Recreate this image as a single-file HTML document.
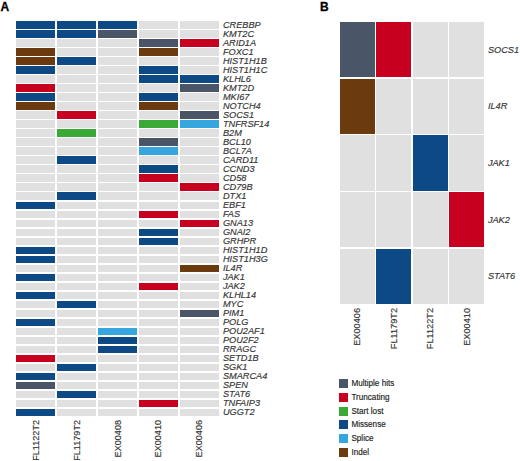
<!DOCTYPE html><html><head><meta charset="utf-8"><style>
html,body{margin:0;padding:0;background:#fff;width:520px;height:461px;overflow:hidden;position:relative;font-family:"Liberation Sans",sans-serif;}
.c{position:absolute;}
.g{position:absolute;font-style:italic;white-space:nowrap;color:#333333;font-size:9.20px;line-height:1;-webkit-text-stroke:0.15px #333333;}
.r{position:absolute;white-space:nowrap;color:#333333;font-size:9.20px;line-height:1;transform-origin:0 0;transform:rotate(-90deg);-webkit-text-stroke:0.15px #333333;}
.lg{position:absolute;white-space:nowrap;color:#222222;font-size:8.15px;line-height:1;-webkit-text-stroke:0.15px #222222;}
.pl{position:absolute;font-weight:bold;font-size:12.00px;line-height:1;color:#000;-webkit-text-stroke:0.30px #000;}
</style></head><body>
<div class="pl" style="left:0.60px;top:0.80px">A</div>
<div class="pl" style="left:320.00px;top:0.80px">B</div>
<div class="c" style="left:16.30px;top:21.30px;width:39.20px;height:7.50px;background:#0d4a85"></div>
<div class="c" style="left:57.20px;top:21.30px;width:39.20px;height:7.50px;background:#0d4a85"></div>
<div class="c" style="left:98.10px;top:21.30px;width:39.20px;height:7.50px;background:#0d4a85"></div>
<div class="c" style="left:139.00px;top:21.30px;width:39.20px;height:7.50px;background:#e0e0e0"></div>
<div class="c" style="left:179.90px;top:21.30px;width:39.20px;height:7.50px;background:#e0e0e0"></div>
<div class="g" style="left:222.90px;top:21.05px">CREBBP</div>
<div class="c" style="left:16.30px;top:30.31px;width:39.20px;height:7.50px;background:#0d4a85"></div>
<div class="c" style="left:57.20px;top:30.31px;width:39.20px;height:7.50px;background:#0d4a85"></div>
<div class="c" style="left:98.10px;top:30.31px;width:39.20px;height:7.50px;background:#4a5668"></div>
<div class="c" style="left:139.00px;top:30.31px;width:39.20px;height:7.50px;background:#e0e0e0"></div>
<div class="c" style="left:179.90px;top:30.31px;width:39.20px;height:7.50px;background:#e0e0e0"></div>
<div class="g" style="left:222.90px;top:30.06px">KMT2C</div>
<div class="c" style="left:16.30px;top:39.32px;width:39.20px;height:7.50px;background:#e0e0e0"></div>
<div class="c" style="left:57.20px;top:39.32px;width:39.20px;height:7.50px;background:#e0e0e0"></div>
<div class="c" style="left:98.10px;top:39.32px;width:39.20px;height:7.50px;background:#e0e0e0"></div>
<div class="c" style="left:139.00px;top:39.32px;width:39.20px;height:7.50px;background:#4a5668"></div>
<div class="c" style="left:179.90px;top:39.32px;width:39.20px;height:7.50px;background:#c8001f"></div>
<div class="g" style="left:222.90px;top:39.07px">ARID1A</div>
<div class="c" style="left:16.30px;top:48.33px;width:39.20px;height:7.50px;background:#6b3b0f"></div>
<div class="c" style="left:57.20px;top:48.33px;width:39.20px;height:7.50px;background:#e0e0e0"></div>
<div class="c" style="left:98.10px;top:48.33px;width:39.20px;height:7.50px;background:#e0e0e0"></div>
<div class="c" style="left:139.00px;top:48.33px;width:39.20px;height:7.50px;background:#6b3b0f"></div>
<div class="c" style="left:179.90px;top:48.33px;width:39.20px;height:7.50px;background:#e0e0e0"></div>
<div class="g" style="left:222.90px;top:48.08px">FOXC1</div>
<div class="c" style="left:16.30px;top:57.34px;width:39.20px;height:7.50px;background:#6b3b0f"></div>
<div class="c" style="left:57.20px;top:57.34px;width:39.20px;height:7.50px;background:#0d4a85"></div>
<div class="c" style="left:98.10px;top:57.34px;width:39.20px;height:7.50px;background:#e0e0e0"></div>
<div class="c" style="left:139.00px;top:57.34px;width:39.20px;height:7.50px;background:#e0e0e0"></div>
<div class="c" style="left:179.90px;top:57.34px;width:39.20px;height:7.50px;background:#e0e0e0"></div>
<div class="g" style="left:222.90px;top:57.09px">HIST1H1B</div>
<div class="c" style="left:16.30px;top:66.35px;width:39.20px;height:7.50px;background:#0d4a85"></div>
<div class="c" style="left:57.20px;top:66.35px;width:39.20px;height:7.50px;background:#e0e0e0"></div>
<div class="c" style="left:98.10px;top:66.35px;width:39.20px;height:7.50px;background:#e0e0e0"></div>
<div class="c" style="left:139.00px;top:66.35px;width:39.20px;height:7.50px;background:#0d4a85"></div>
<div class="c" style="left:179.90px;top:66.35px;width:39.20px;height:7.50px;background:#e0e0e0"></div>
<div class="g" style="left:222.90px;top:66.10px">HIST1H1C</div>
<div class="c" style="left:16.30px;top:75.36px;width:39.20px;height:7.50px;background:#e0e0e0"></div>
<div class="c" style="left:57.20px;top:75.36px;width:39.20px;height:7.50px;background:#e0e0e0"></div>
<div class="c" style="left:98.10px;top:75.36px;width:39.20px;height:7.50px;background:#e0e0e0"></div>
<div class="c" style="left:139.00px;top:75.36px;width:39.20px;height:7.50px;background:#0d4a85"></div>
<div class="c" style="left:179.90px;top:75.36px;width:39.20px;height:7.50px;background:#0d4a85"></div>
<div class="g" style="left:222.90px;top:75.11px">KLHL6</div>
<div class="c" style="left:16.30px;top:84.37px;width:39.20px;height:7.50px;background:#c8001f"></div>
<div class="c" style="left:57.20px;top:84.37px;width:39.20px;height:7.50px;background:#e0e0e0"></div>
<div class="c" style="left:98.10px;top:84.37px;width:39.20px;height:7.50px;background:#e0e0e0"></div>
<div class="c" style="left:139.00px;top:84.37px;width:39.20px;height:7.50px;background:#e0e0e0"></div>
<div class="c" style="left:179.90px;top:84.37px;width:39.20px;height:7.50px;background:#4a5668"></div>
<div class="g" style="left:222.90px;top:84.12px">KMT2D</div>
<div class="c" style="left:16.30px;top:93.38px;width:39.20px;height:7.50px;background:#0d4a85"></div>
<div class="c" style="left:57.20px;top:93.38px;width:39.20px;height:7.50px;background:#e0e0e0"></div>
<div class="c" style="left:98.10px;top:93.38px;width:39.20px;height:7.50px;background:#e0e0e0"></div>
<div class="c" style="left:139.00px;top:93.38px;width:39.20px;height:7.50px;background:#0d4a85"></div>
<div class="c" style="left:179.90px;top:93.38px;width:39.20px;height:7.50px;background:#e0e0e0"></div>
<div class="g" style="left:222.90px;top:93.13px">MKI67</div>
<div class="c" style="left:16.30px;top:102.39px;width:39.20px;height:7.50px;background:#6b3b0f"></div>
<div class="c" style="left:57.20px;top:102.39px;width:39.20px;height:7.50px;background:#e0e0e0"></div>
<div class="c" style="left:98.10px;top:102.39px;width:39.20px;height:7.50px;background:#e0e0e0"></div>
<div class="c" style="left:139.00px;top:102.39px;width:39.20px;height:7.50px;background:#6b3b0f"></div>
<div class="c" style="left:179.90px;top:102.39px;width:39.20px;height:7.50px;background:#e0e0e0"></div>
<div class="g" style="left:222.90px;top:102.14px">NOTCH4</div>
<div class="c" style="left:16.30px;top:111.40px;width:39.20px;height:7.50px;background:#e0e0e0"></div>
<div class="c" style="left:57.20px;top:111.40px;width:39.20px;height:7.50px;background:#c8001f"></div>
<div class="c" style="left:98.10px;top:111.40px;width:39.20px;height:7.50px;background:#e0e0e0"></div>
<div class="c" style="left:139.00px;top:111.40px;width:39.20px;height:7.50px;background:#e0e0e0"></div>
<div class="c" style="left:179.90px;top:111.40px;width:39.20px;height:7.50px;background:#4a5668"></div>
<div class="g" style="left:222.90px;top:111.15px">SOCS1</div>
<div class="c" style="left:16.30px;top:120.41px;width:39.20px;height:7.50px;background:#e0e0e0"></div>
<div class="c" style="left:57.20px;top:120.41px;width:39.20px;height:7.50px;background:#e0e0e0"></div>
<div class="c" style="left:98.10px;top:120.41px;width:39.20px;height:7.50px;background:#e0e0e0"></div>
<div class="c" style="left:139.00px;top:120.41px;width:39.20px;height:7.50px;background:#3aa935"></div>
<div class="c" style="left:179.90px;top:120.41px;width:39.20px;height:7.50px;background:#35a6de"></div>
<div class="g" style="left:222.90px;top:120.16px">TNFRSF14</div>
<div class="c" style="left:16.30px;top:129.42px;width:39.20px;height:7.50px;background:#e0e0e0"></div>
<div class="c" style="left:57.20px;top:129.42px;width:39.20px;height:7.50px;background:#3aa935"></div>
<div class="c" style="left:98.10px;top:129.42px;width:39.20px;height:7.50px;background:#e0e0e0"></div>
<div class="c" style="left:139.00px;top:129.42px;width:39.20px;height:7.50px;background:#e0e0e0"></div>
<div class="c" style="left:179.90px;top:129.42px;width:39.20px;height:7.50px;background:#e0e0e0"></div>
<div class="g" style="left:222.90px;top:129.17px">B2M</div>
<div class="c" style="left:16.30px;top:138.43px;width:39.20px;height:7.50px;background:#e0e0e0"></div>
<div class="c" style="left:57.20px;top:138.43px;width:39.20px;height:7.50px;background:#e0e0e0"></div>
<div class="c" style="left:98.10px;top:138.43px;width:39.20px;height:7.50px;background:#e0e0e0"></div>
<div class="c" style="left:139.00px;top:138.43px;width:39.20px;height:7.50px;background:#4a5668"></div>
<div class="c" style="left:179.90px;top:138.43px;width:39.20px;height:7.50px;background:#e0e0e0"></div>
<div class="g" style="left:222.90px;top:138.18px">BCL10</div>
<div class="c" style="left:16.30px;top:147.44px;width:39.20px;height:7.50px;background:#e0e0e0"></div>
<div class="c" style="left:57.20px;top:147.44px;width:39.20px;height:7.50px;background:#e0e0e0"></div>
<div class="c" style="left:98.10px;top:147.44px;width:39.20px;height:7.50px;background:#e0e0e0"></div>
<div class="c" style="left:139.00px;top:147.44px;width:39.20px;height:7.50px;background:#35a6de"></div>
<div class="c" style="left:179.90px;top:147.44px;width:39.20px;height:7.50px;background:#e0e0e0"></div>
<div class="g" style="left:222.90px;top:147.19px">BCL7A</div>
<div class="c" style="left:16.30px;top:156.45px;width:39.20px;height:7.50px;background:#e0e0e0"></div>
<div class="c" style="left:57.20px;top:156.45px;width:39.20px;height:7.50px;background:#0d4a85"></div>
<div class="c" style="left:98.10px;top:156.45px;width:39.20px;height:7.50px;background:#e0e0e0"></div>
<div class="c" style="left:139.00px;top:156.45px;width:39.20px;height:7.50px;background:#e0e0e0"></div>
<div class="c" style="left:179.90px;top:156.45px;width:39.20px;height:7.50px;background:#e0e0e0"></div>
<div class="g" style="left:222.90px;top:156.20px">CARD11</div>
<div class="c" style="left:16.30px;top:165.46px;width:39.20px;height:7.50px;background:#e0e0e0"></div>
<div class="c" style="left:57.20px;top:165.46px;width:39.20px;height:7.50px;background:#e0e0e0"></div>
<div class="c" style="left:98.10px;top:165.46px;width:39.20px;height:7.50px;background:#e0e0e0"></div>
<div class="c" style="left:139.00px;top:165.46px;width:39.20px;height:7.50px;background:#0d4a85"></div>
<div class="c" style="left:179.90px;top:165.46px;width:39.20px;height:7.50px;background:#e0e0e0"></div>
<div class="g" style="left:222.90px;top:165.21px">CCND3</div>
<div class="c" style="left:16.30px;top:174.47px;width:39.20px;height:7.50px;background:#e0e0e0"></div>
<div class="c" style="left:57.20px;top:174.47px;width:39.20px;height:7.50px;background:#e0e0e0"></div>
<div class="c" style="left:98.10px;top:174.47px;width:39.20px;height:7.50px;background:#e0e0e0"></div>
<div class="c" style="left:139.00px;top:174.47px;width:39.20px;height:7.50px;background:#c8001f"></div>
<div class="c" style="left:179.90px;top:174.47px;width:39.20px;height:7.50px;background:#e0e0e0"></div>
<div class="g" style="left:222.90px;top:174.22px">CD58</div>
<div class="c" style="left:16.30px;top:183.48px;width:39.20px;height:7.50px;background:#e0e0e0"></div>
<div class="c" style="left:57.20px;top:183.48px;width:39.20px;height:7.50px;background:#e0e0e0"></div>
<div class="c" style="left:98.10px;top:183.48px;width:39.20px;height:7.50px;background:#e0e0e0"></div>
<div class="c" style="left:139.00px;top:183.48px;width:39.20px;height:7.50px;background:#e0e0e0"></div>
<div class="c" style="left:179.90px;top:183.48px;width:39.20px;height:7.50px;background:#c8001f"></div>
<div class="g" style="left:222.90px;top:183.23px">CD79B</div>
<div class="c" style="left:16.30px;top:192.49px;width:39.20px;height:7.50px;background:#e0e0e0"></div>
<div class="c" style="left:57.20px;top:192.49px;width:39.20px;height:7.50px;background:#0d4a85"></div>
<div class="c" style="left:98.10px;top:192.49px;width:39.20px;height:7.50px;background:#e0e0e0"></div>
<div class="c" style="left:139.00px;top:192.49px;width:39.20px;height:7.50px;background:#e0e0e0"></div>
<div class="c" style="left:179.90px;top:192.49px;width:39.20px;height:7.50px;background:#e0e0e0"></div>
<div class="g" style="left:222.90px;top:192.24px">DTX1</div>
<div class="c" style="left:16.30px;top:201.50px;width:39.20px;height:7.50px;background:#0d4a85"></div>
<div class="c" style="left:57.20px;top:201.50px;width:39.20px;height:7.50px;background:#e0e0e0"></div>
<div class="c" style="left:98.10px;top:201.50px;width:39.20px;height:7.50px;background:#e0e0e0"></div>
<div class="c" style="left:139.00px;top:201.50px;width:39.20px;height:7.50px;background:#e0e0e0"></div>
<div class="c" style="left:179.90px;top:201.50px;width:39.20px;height:7.50px;background:#e0e0e0"></div>
<div class="g" style="left:222.90px;top:201.25px">EBF1</div>
<div class="c" style="left:16.30px;top:210.51px;width:39.20px;height:7.50px;background:#e0e0e0"></div>
<div class="c" style="left:57.20px;top:210.51px;width:39.20px;height:7.50px;background:#e0e0e0"></div>
<div class="c" style="left:98.10px;top:210.51px;width:39.20px;height:7.50px;background:#e0e0e0"></div>
<div class="c" style="left:139.00px;top:210.51px;width:39.20px;height:7.50px;background:#c8001f"></div>
<div class="c" style="left:179.90px;top:210.51px;width:39.20px;height:7.50px;background:#e0e0e0"></div>
<div class="g" style="left:222.90px;top:210.26px">FAS</div>
<div class="c" style="left:16.30px;top:219.52px;width:39.20px;height:7.50px;background:#e0e0e0"></div>
<div class="c" style="left:57.20px;top:219.52px;width:39.20px;height:7.50px;background:#e0e0e0"></div>
<div class="c" style="left:98.10px;top:219.52px;width:39.20px;height:7.50px;background:#e0e0e0"></div>
<div class="c" style="left:139.00px;top:219.52px;width:39.20px;height:7.50px;background:#e0e0e0"></div>
<div class="c" style="left:179.90px;top:219.52px;width:39.20px;height:7.50px;background:#c8001f"></div>
<div class="g" style="left:222.90px;top:219.27px">GNA13</div>
<div class="c" style="left:16.30px;top:228.53px;width:39.20px;height:7.50px;background:#e0e0e0"></div>
<div class="c" style="left:57.20px;top:228.53px;width:39.20px;height:7.50px;background:#e0e0e0"></div>
<div class="c" style="left:98.10px;top:228.53px;width:39.20px;height:7.50px;background:#e0e0e0"></div>
<div class="c" style="left:139.00px;top:228.53px;width:39.20px;height:7.50px;background:#0d4a85"></div>
<div class="c" style="left:179.90px;top:228.53px;width:39.20px;height:7.50px;background:#e0e0e0"></div>
<div class="g" style="left:222.90px;top:228.28px">GNAI2</div>
<div class="c" style="left:16.30px;top:237.54px;width:39.20px;height:7.50px;background:#e0e0e0"></div>
<div class="c" style="left:57.20px;top:237.54px;width:39.20px;height:7.50px;background:#e0e0e0"></div>
<div class="c" style="left:98.10px;top:237.54px;width:39.20px;height:7.50px;background:#e0e0e0"></div>
<div class="c" style="left:139.00px;top:237.54px;width:39.20px;height:7.50px;background:#0d4a85"></div>
<div class="c" style="left:179.90px;top:237.54px;width:39.20px;height:7.50px;background:#e0e0e0"></div>
<div class="g" style="left:222.90px;top:237.29px">GRHPR</div>
<div class="c" style="left:16.30px;top:246.55px;width:39.20px;height:7.50px;background:#0d4a85"></div>
<div class="c" style="left:57.20px;top:246.55px;width:39.20px;height:7.50px;background:#e0e0e0"></div>
<div class="c" style="left:98.10px;top:246.55px;width:39.20px;height:7.50px;background:#e0e0e0"></div>
<div class="c" style="left:139.00px;top:246.55px;width:39.20px;height:7.50px;background:#e0e0e0"></div>
<div class="c" style="left:179.90px;top:246.55px;width:39.20px;height:7.50px;background:#e0e0e0"></div>
<div class="g" style="left:222.90px;top:246.30px">HIST1H1D</div>
<div class="c" style="left:16.30px;top:255.56px;width:39.20px;height:7.50px;background:#0d4a85"></div>
<div class="c" style="left:57.20px;top:255.56px;width:39.20px;height:7.50px;background:#e0e0e0"></div>
<div class="c" style="left:98.10px;top:255.56px;width:39.20px;height:7.50px;background:#e0e0e0"></div>
<div class="c" style="left:139.00px;top:255.56px;width:39.20px;height:7.50px;background:#e0e0e0"></div>
<div class="c" style="left:179.90px;top:255.56px;width:39.20px;height:7.50px;background:#e0e0e0"></div>
<div class="g" style="left:222.90px;top:255.31px">HIST1H3G</div>
<div class="c" style="left:16.30px;top:264.57px;width:39.20px;height:7.50px;background:#e0e0e0"></div>
<div class="c" style="left:57.20px;top:264.57px;width:39.20px;height:7.50px;background:#e0e0e0"></div>
<div class="c" style="left:98.10px;top:264.57px;width:39.20px;height:7.50px;background:#e0e0e0"></div>
<div class="c" style="left:139.00px;top:264.57px;width:39.20px;height:7.50px;background:#e0e0e0"></div>
<div class="c" style="left:179.90px;top:264.57px;width:39.20px;height:7.50px;background:#6b3b0f"></div>
<div class="g" style="left:222.90px;top:264.32px">IL4R</div>
<div class="c" style="left:16.30px;top:273.58px;width:39.20px;height:7.50px;background:#0d4a85"></div>
<div class="c" style="left:57.20px;top:273.58px;width:39.20px;height:7.50px;background:#e0e0e0"></div>
<div class="c" style="left:98.10px;top:273.58px;width:39.20px;height:7.50px;background:#e0e0e0"></div>
<div class="c" style="left:139.00px;top:273.58px;width:39.20px;height:7.50px;background:#e0e0e0"></div>
<div class="c" style="left:179.90px;top:273.58px;width:39.20px;height:7.50px;background:#e0e0e0"></div>
<div class="g" style="left:222.90px;top:273.33px">JAK1</div>
<div class="c" style="left:16.30px;top:282.59px;width:39.20px;height:7.50px;background:#e0e0e0"></div>
<div class="c" style="left:57.20px;top:282.59px;width:39.20px;height:7.50px;background:#e0e0e0"></div>
<div class="c" style="left:98.10px;top:282.59px;width:39.20px;height:7.50px;background:#e0e0e0"></div>
<div class="c" style="left:139.00px;top:282.59px;width:39.20px;height:7.50px;background:#c8001f"></div>
<div class="c" style="left:179.90px;top:282.59px;width:39.20px;height:7.50px;background:#e0e0e0"></div>
<div class="g" style="left:222.90px;top:282.34px">JAK2</div>
<div class="c" style="left:16.30px;top:291.60px;width:39.20px;height:7.50px;background:#0d4a85"></div>
<div class="c" style="left:57.20px;top:291.60px;width:39.20px;height:7.50px;background:#e0e0e0"></div>
<div class="c" style="left:98.10px;top:291.60px;width:39.20px;height:7.50px;background:#e0e0e0"></div>
<div class="c" style="left:139.00px;top:291.60px;width:39.20px;height:7.50px;background:#e0e0e0"></div>
<div class="c" style="left:179.90px;top:291.60px;width:39.20px;height:7.50px;background:#e0e0e0"></div>
<div class="g" style="left:222.90px;top:291.35px">KLHL14</div>
<div class="c" style="left:16.30px;top:300.61px;width:39.20px;height:7.50px;background:#e0e0e0"></div>
<div class="c" style="left:57.20px;top:300.61px;width:39.20px;height:7.50px;background:#0d4a85"></div>
<div class="c" style="left:98.10px;top:300.61px;width:39.20px;height:7.50px;background:#e0e0e0"></div>
<div class="c" style="left:139.00px;top:300.61px;width:39.20px;height:7.50px;background:#e0e0e0"></div>
<div class="c" style="left:179.90px;top:300.61px;width:39.20px;height:7.50px;background:#e0e0e0"></div>
<div class="g" style="left:222.90px;top:300.36px">MYC</div>
<div class="c" style="left:16.30px;top:309.62px;width:39.20px;height:7.50px;background:#e0e0e0"></div>
<div class="c" style="left:57.20px;top:309.62px;width:39.20px;height:7.50px;background:#e0e0e0"></div>
<div class="c" style="left:98.10px;top:309.62px;width:39.20px;height:7.50px;background:#e0e0e0"></div>
<div class="c" style="left:139.00px;top:309.62px;width:39.20px;height:7.50px;background:#e0e0e0"></div>
<div class="c" style="left:179.90px;top:309.62px;width:39.20px;height:7.50px;background:#4a5668"></div>
<div class="g" style="left:222.90px;top:309.37px">PIM1</div>
<div class="c" style="left:16.30px;top:318.63px;width:39.20px;height:7.50px;background:#0d4a85"></div>
<div class="c" style="left:57.20px;top:318.63px;width:39.20px;height:7.50px;background:#e0e0e0"></div>
<div class="c" style="left:98.10px;top:318.63px;width:39.20px;height:7.50px;background:#e0e0e0"></div>
<div class="c" style="left:139.00px;top:318.63px;width:39.20px;height:7.50px;background:#e0e0e0"></div>
<div class="c" style="left:179.90px;top:318.63px;width:39.20px;height:7.50px;background:#e0e0e0"></div>
<div class="g" style="left:222.90px;top:318.38px">POLG</div>
<div class="c" style="left:16.30px;top:327.64px;width:39.20px;height:7.50px;background:#e0e0e0"></div>
<div class="c" style="left:57.20px;top:327.64px;width:39.20px;height:7.50px;background:#e0e0e0"></div>
<div class="c" style="left:98.10px;top:327.64px;width:39.20px;height:7.50px;background:#35a6de"></div>
<div class="c" style="left:139.00px;top:327.64px;width:39.20px;height:7.50px;background:#e0e0e0"></div>
<div class="c" style="left:179.90px;top:327.64px;width:39.20px;height:7.50px;background:#e0e0e0"></div>
<div class="g" style="left:222.90px;top:327.39px">POU2AF1</div>
<div class="c" style="left:16.30px;top:336.65px;width:39.20px;height:7.50px;background:#e0e0e0"></div>
<div class="c" style="left:57.20px;top:336.65px;width:39.20px;height:7.50px;background:#e0e0e0"></div>
<div class="c" style="left:98.10px;top:336.65px;width:39.20px;height:7.50px;background:#0d4a85"></div>
<div class="c" style="left:139.00px;top:336.65px;width:39.20px;height:7.50px;background:#e0e0e0"></div>
<div class="c" style="left:179.90px;top:336.65px;width:39.20px;height:7.50px;background:#e0e0e0"></div>
<div class="g" style="left:222.90px;top:336.40px">POU2F2</div>
<div class="c" style="left:16.30px;top:345.66px;width:39.20px;height:7.50px;background:#e0e0e0"></div>
<div class="c" style="left:57.20px;top:345.66px;width:39.20px;height:7.50px;background:#e0e0e0"></div>
<div class="c" style="left:98.10px;top:345.66px;width:39.20px;height:7.50px;background:#0d4a85"></div>
<div class="c" style="left:139.00px;top:345.66px;width:39.20px;height:7.50px;background:#e0e0e0"></div>
<div class="c" style="left:179.90px;top:345.66px;width:39.20px;height:7.50px;background:#e0e0e0"></div>
<div class="g" style="left:222.90px;top:345.41px">RRAGC</div>
<div class="c" style="left:16.30px;top:354.67px;width:39.20px;height:7.50px;background:#c8001f"></div>
<div class="c" style="left:57.20px;top:354.67px;width:39.20px;height:7.50px;background:#e0e0e0"></div>
<div class="c" style="left:98.10px;top:354.67px;width:39.20px;height:7.50px;background:#e0e0e0"></div>
<div class="c" style="left:139.00px;top:354.67px;width:39.20px;height:7.50px;background:#e0e0e0"></div>
<div class="c" style="left:179.90px;top:354.67px;width:39.20px;height:7.50px;background:#e0e0e0"></div>
<div class="g" style="left:222.90px;top:354.42px">SETD1B</div>
<div class="c" style="left:16.30px;top:363.68px;width:39.20px;height:7.50px;background:#e0e0e0"></div>
<div class="c" style="left:57.20px;top:363.68px;width:39.20px;height:7.50px;background:#0d4a85"></div>
<div class="c" style="left:98.10px;top:363.68px;width:39.20px;height:7.50px;background:#e0e0e0"></div>
<div class="c" style="left:139.00px;top:363.68px;width:39.20px;height:7.50px;background:#e0e0e0"></div>
<div class="c" style="left:179.90px;top:363.68px;width:39.20px;height:7.50px;background:#e0e0e0"></div>
<div class="g" style="left:222.90px;top:363.43px">SGK1</div>
<div class="c" style="left:16.30px;top:372.69px;width:39.20px;height:7.50px;background:#0d4a85"></div>
<div class="c" style="left:57.20px;top:372.69px;width:39.20px;height:7.50px;background:#e0e0e0"></div>
<div class="c" style="left:98.10px;top:372.69px;width:39.20px;height:7.50px;background:#e0e0e0"></div>
<div class="c" style="left:139.00px;top:372.69px;width:39.20px;height:7.50px;background:#e0e0e0"></div>
<div class="c" style="left:179.90px;top:372.69px;width:39.20px;height:7.50px;background:#e0e0e0"></div>
<div class="g" style="left:222.90px;top:372.44px">SMARCA4</div>
<div class="c" style="left:16.30px;top:381.70px;width:39.20px;height:7.50px;background:#4a5668"></div>
<div class="c" style="left:57.20px;top:381.70px;width:39.20px;height:7.50px;background:#e0e0e0"></div>
<div class="c" style="left:98.10px;top:381.70px;width:39.20px;height:7.50px;background:#e0e0e0"></div>
<div class="c" style="left:139.00px;top:381.70px;width:39.20px;height:7.50px;background:#e0e0e0"></div>
<div class="c" style="left:179.90px;top:381.70px;width:39.20px;height:7.50px;background:#e0e0e0"></div>
<div class="g" style="left:222.90px;top:381.45px">SPEN</div>
<div class="c" style="left:16.30px;top:390.71px;width:39.20px;height:7.50px;background:#e0e0e0"></div>
<div class="c" style="left:57.20px;top:390.71px;width:39.20px;height:7.50px;background:#0d4a85"></div>
<div class="c" style="left:98.10px;top:390.71px;width:39.20px;height:7.50px;background:#e0e0e0"></div>
<div class="c" style="left:139.00px;top:390.71px;width:39.20px;height:7.50px;background:#e0e0e0"></div>
<div class="c" style="left:179.90px;top:390.71px;width:39.20px;height:7.50px;background:#e0e0e0"></div>
<div class="g" style="left:222.90px;top:390.46px">STAT6</div>
<div class="c" style="left:16.30px;top:399.72px;width:39.20px;height:7.50px;background:#e0e0e0"></div>
<div class="c" style="left:57.20px;top:399.72px;width:39.20px;height:7.50px;background:#e0e0e0"></div>
<div class="c" style="left:98.10px;top:399.72px;width:39.20px;height:7.50px;background:#e0e0e0"></div>
<div class="c" style="left:139.00px;top:399.72px;width:39.20px;height:7.50px;background:#c8001f"></div>
<div class="c" style="left:179.90px;top:399.72px;width:39.20px;height:7.50px;background:#e0e0e0"></div>
<div class="g" style="left:222.90px;top:399.47px">TNFAIP3</div>
<div class="c" style="left:16.30px;top:408.73px;width:39.20px;height:7.50px;background:#0d4a85"></div>
<div class="c" style="left:57.20px;top:408.73px;width:39.20px;height:7.50px;background:#e0e0e0"></div>
<div class="c" style="left:98.10px;top:408.73px;width:39.20px;height:7.50px;background:#e0e0e0"></div>
<div class="c" style="left:139.00px;top:408.73px;width:39.20px;height:7.50px;background:#e0e0e0"></div>
<div class="c" style="left:179.90px;top:408.73px;width:39.20px;height:7.50px;background:#e0e0e0"></div>
<div class="g" style="left:222.90px;top:408.48px">UGGT2</div>
<div class="r" style="left:31.70px;top:479.50px;width:60px;text-align:right;font-size:9.10px">FL1122T2</div>
<div class="r" style="left:72.60px;top:479.50px;width:60px;text-align:right;font-size:9.10px">FL1179T2</div>
<div class="r" style="left:113.50px;top:479.50px;width:60px;text-align:right;font-size:9.10px">EX00408</div>
<div class="r" style="left:154.40px;top:479.50px;width:60px;text-align:right;font-size:9.10px">EX00410</div>
<div class="r" style="left:195.30px;top:479.50px;width:60px;text-align:right;font-size:9.10px">EX00406</div>
<div class="c" style="left:339.80px;top:21.90px;width:35.00px;height:55.30px;background:#4a5668"></div>
<div class="c" style="left:376.30px;top:21.90px;width:35.00px;height:55.30px;background:#c8001f"></div>
<div class="c" style="left:412.80px;top:21.90px;width:35.00px;height:55.30px;background:#e0e0e0"></div>
<div class="c" style="left:449.30px;top:21.90px;width:35.00px;height:55.30px;background:#e0e0e0"></div>
<div class="g" style="left:487.90px;top:45.55px">SOCS1</div>
<div class="c" style="left:339.80px;top:78.58px;width:35.00px;height:55.30px;background:#6b3b0f"></div>
<div class="c" style="left:376.30px;top:78.58px;width:35.00px;height:55.30px;background:#e0e0e0"></div>
<div class="c" style="left:412.80px;top:78.58px;width:35.00px;height:55.30px;background:#e0e0e0"></div>
<div class="c" style="left:449.30px;top:78.58px;width:35.00px;height:55.30px;background:#e0e0e0"></div>
<div class="g" style="left:487.90px;top:102.23px">IL4R</div>
<div class="c" style="left:339.80px;top:135.26px;width:35.00px;height:55.30px;background:#e0e0e0"></div>
<div class="c" style="left:376.30px;top:135.26px;width:35.00px;height:55.30px;background:#e0e0e0"></div>
<div class="c" style="left:412.80px;top:135.26px;width:35.00px;height:55.30px;background:#0d4a85"></div>
<div class="c" style="left:449.30px;top:135.26px;width:35.00px;height:55.30px;background:#e0e0e0"></div>
<div class="g" style="left:487.90px;top:158.91px">JAK1</div>
<div class="c" style="left:339.80px;top:191.94px;width:35.00px;height:55.30px;background:#e0e0e0"></div>
<div class="c" style="left:376.30px;top:191.94px;width:35.00px;height:55.30px;background:#e0e0e0"></div>
<div class="c" style="left:412.80px;top:191.94px;width:35.00px;height:55.30px;background:#e0e0e0"></div>
<div class="c" style="left:449.30px;top:191.94px;width:35.00px;height:55.30px;background:#c8001f"></div>
<div class="g" style="left:487.90px;top:215.59px">JAK2</div>
<div class="c" style="left:339.80px;top:248.62px;width:35.00px;height:55.30px;background:#e0e0e0"></div>
<div class="c" style="left:376.30px;top:248.62px;width:35.00px;height:55.30px;background:#0d4a85"></div>
<div class="c" style="left:412.80px;top:248.62px;width:35.00px;height:55.30px;background:#e0e0e0"></div>
<div class="c" style="left:449.30px;top:248.62px;width:35.00px;height:55.30px;background:#e0e0e0"></div>
<div class="g" style="left:487.90px;top:272.27px">STAT6</div>
<div class="r" style="left:353.10px;top:368.00px;width:60px;text-align:right">EX00406</div>
<div class="r" style="left:389.60px;top:368.00px;width:60px;text-align:right">FL1179T2</div>
<div class="r" style="left:426.10px;top:368.00px;width:60px;text-align:right">FL1122T2</div>
<div class="r" style="left:462.60px;top:368.00px;width:60px;text-align:right">EX00410</div>
<div class="c" style="left:338.80px;top:379.20px;width:9.00px;height:9.00px;background:#4a5668"></div>
<div class="lg" style="left:351.40px;top:380.00px">Multiple hits</div>
<div class="c" style="left:338.80px;top:392.96px;width:9.00px;height:9.00px;background:#c8001f"></div>
<div class="lg" style="left:351.40px;top:393.76px">Truncating</div>
<div class="c" style="left:338.80px;top:406.72px;width:9.00px;height:9.00px;background:#3aa935"></div>
<div class="lg" style="left:351.40px;top:407.52px">Start lost</div>
<div class="c" style="left:338.80px;top:420.48px;width:9.00px;height:9.00px;background:#0d4a85"></div>
<div class="lg" style="left:351.40px;top:421.28px">Missense</div>
<div class="c" style="left:338.80px;top:434.24px;width:9.00px;height:9.00px;background:#35a6de"></div>
<div class="lg" style="left:351.40px;top:435.04px">Splice</div>
<div class="c" style="left:338.80px;top:448.00px;width:9.00px;height:9.00px;background:#6b3b0f"></div>
<div class="lg" style="left:351.40px;top:448.80px">Indel</div>
</body></html>
